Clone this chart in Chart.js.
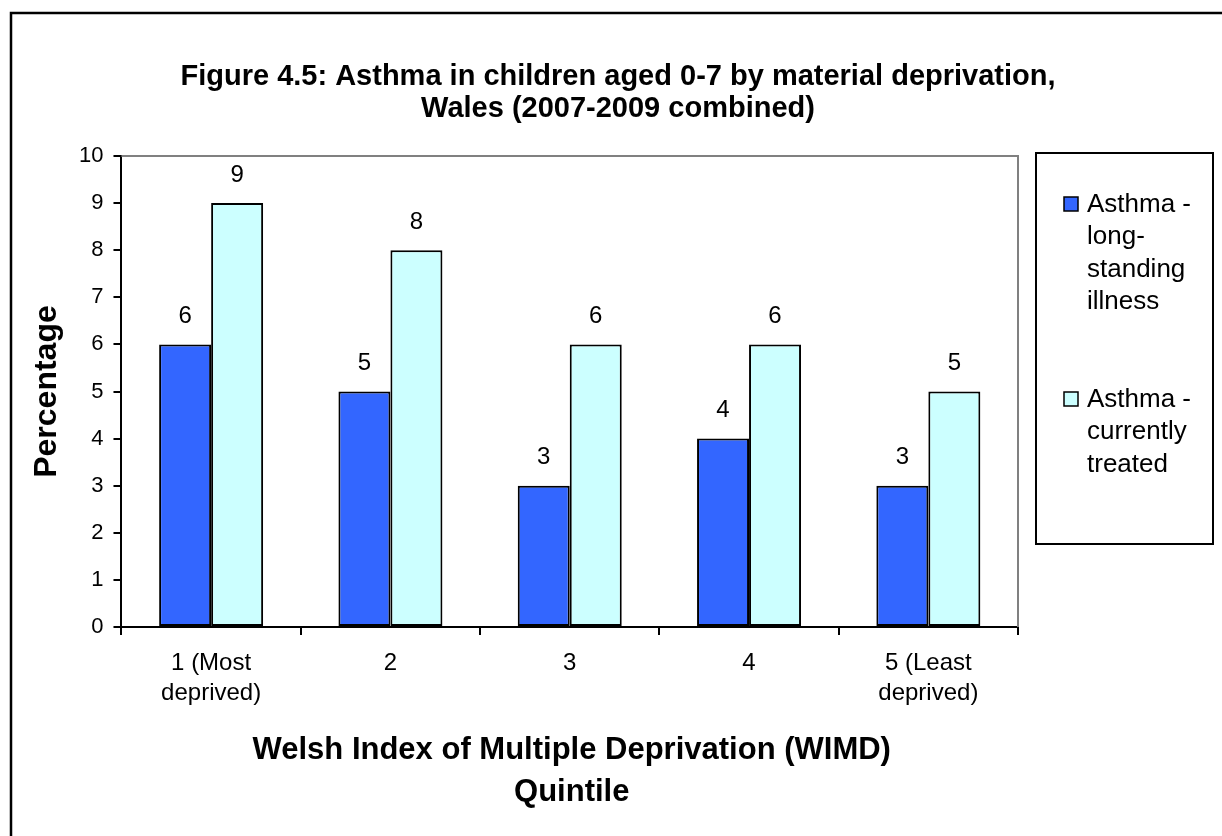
<!DOCTYPE html>
<html>
<head>
<meta charset="utf-8">
<script src="https://cdn.jsdelivr.net/npm/chart.js@4.4.1/dist/chart.umd.min.js"></script>
<style>
  html, body { margin: 0; padding: 0; background: #ffffff; }
  #wrap { position: relative; width: 1222px; height: 836px; }
</style>
</head>
<body>
<div id="wrap"><canvas id="c" width="1222" height="836"></canvas></div>
<script>
const titleLines = ["Figure 4.5: Asthma in children aged 0-7 by material deprivation,", "Wales (2007-2009 combined)"];
const categories = [["1 (Most", "deprived)"], "2", "3", "4", ["5 (Least", "deprived)"]];
const longStanding = [6, 5, 3, 4, 3];
const currentlyTreated = [9, 8, 6, 6, 5];
const seriesNames = [["Asthma -", "long-", "standing", "illness"], ["Asthma -", "currently", "treated"]];
const yTicks = [0, 1, 2, 3, 4, 5, 6, 7, 8, 9, 10];
const xTitle = ["Welsh Index of Multiple Deprivation (WIMD)", "Quintile"];
const yTitle = "Percentage";

const FONT = "'Liberation Sans', Arial, sans-serif";

const framePlugin = {
  id: 'frame',
  beforeDraw(chart) {
    const ctx = chart.ctx;
    ctx.save();
    ctx.fillStyle = '#ffffff';
    ctx.fillRect(0, 0, chart.width, chart.height);
    ctx.strokeStyle = '#000000';
    ctx.lineWidth = 2.5;
    ctx.strokeRect(11, 13, chart.width + 50, chart.height + 50);
    ctx.restore();
  },
  afterDraw(chart) {
    const ctx = chart.ctx;
    const a = chart.chartArea;
    ctx.save();
    ctx.strokeStyle = '#808080';
    ctx.lineWidth = 2;
    ctx.beginPath();
    ctx.moveTo(a.left, a.top);
    ctx.lineTo(a.right, a.top);
    ctx.lineTo(a.right, a.bottom);
    ctx.stroke();

    ctx.fillStyle = '#000000';
    ctx.textAlign = 'center';
    ctx.textBaseline = 'middle';
    // chart title
    ctx.font = "bold 29px " + FONT;
    titleLines.forEach((t, i) => ctx.fillText(t, 618, 77 + i * 32));
    // x axis title
    ctx.font = "bold 31px " + FONT;
    const xc = (a.left + a.right) / 2 + 2;
    xTitle.forEach((t, i) => ctx.fillText(t, xc, 750 + i * 42));
    // y axis title
    ctx.save();
    ctx.translate(47, (a.top + a.bottom) / 2);
    ctx.rotate(-Math.PI / 2);
    ctx.font = "bold 32px " + FONT;
    ctx.fillText(yTitle, 0, 0);
    ctx.restore();
    // value labels
    ctx.font = "24px " + FONT;
    chart.data.datasets.forEach((ds, di) => {
      const meta = chart.getDatasetMeta(di);
      meta.data.forEach((bar, i) => {
        ctx.fillText(String(ds.data[i]), bar.x, bar.y - 28);
      });
    });
    // legend
    ctx.strokeStyle = '#000000';
    ctx.lineWidth = 2;
    ctx.strokeRect(1036, 153, 177, 391);
    const starts = [204, 399];
    ctx.textAlign = 'left';
    ctx.font = "26px " + FONT;
    chart.data.datasets.forEach((ds, di) => {
      const y0 = starts[di];
      ctx.fillStyle = ds.backgroundColor;
      ctx.fillRect(1064, y0 - 7, 14, 14);
      ctx.lineWidth = 1.5;
      ctx.strokeStyle = '#000000';
      ctx.strokeRect(1064, y0 - 7, 14, 14);
      ctx.fillStyle = '#000000';
      seriesNames[di].forEach((line, li) => ctx.fillText(line, 1087, y0 + 1 + li * 32.3));
    });
    ctx.restore();
  }
};

new Chart(document.getElementById('c'), {
  type: 'bar',
  data: {
    labels: categories,
    datasets: [
      { label: seriesNames[0].join(' '), data: longStanding, backgroundColor: '#3366FF', borderColor: '#000000', borderWidth: 2, borderSkipped: false, barPercentage: 1, categoryPercentage: 0.58 },
      { label: seriesNames[1].join(' '), data: currentlyTreated, backgroundColor: '#CCFFFF', borderColor: '#000000', borderWidth: 2, borderSkipped: false, barPercentage: 1, categoryPercentage: 0.58 }
    ]
  },
  options: {
    responsive: false,
    animation: false,
    layout: { padding: { top: 156, right: 204, left: 69, bottom: 115 } },
    plugins: {
      legend: { display: false },
      title: { display: false },
      tooltip: { enabled: false }
    },
    scales: {
      x: {
        grid: { display: true, drawOnChartArea: false, offset: true, color: '#000000', tickLength: 8, lineWidth: 2 },
        border: { display: true, color: '#000000', width: 2 },
        ticks: { color: '#000000', font: { family: FONT, size: 24, lineHeight: 1.25 }, padding: 13, maxRotation: 0, autoSkip: false },
        title: { display: false }
      },
      y: {
        min: 0, max: 10,
        afterBuildTicks(scale) { scale.ticks = yTicks.map(v => ({ value: v })); },
        grid: { display: true, drawOnChartArea: false, color: '#000000', tickLength: 8, lineWidth: 2 },
        border: { display: true, color: '#000000', width: 2 },
        ticks: { color: '#000000', font: { family: FONT, size: 22 }, padding: 10 },
        title: { display: false }
      }
    }
  },
  plugins: [framePlugin]
});
</script>
</body>
</html>
